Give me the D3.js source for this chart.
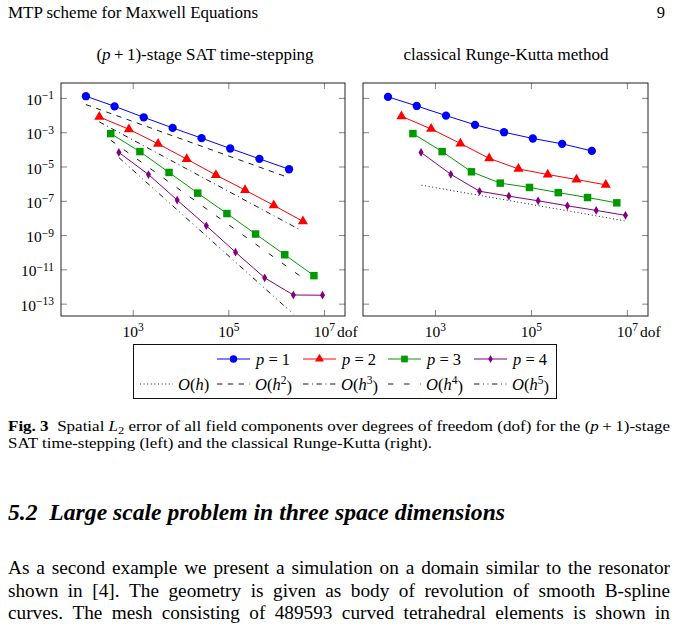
<!DOCTYPE html>
<html>
<head>
<meta charset="utf-8">
<script src="https://cdn.jsdelivr.net/npm/d3@7"></script>
<style>
    body { margin: 0; background: #fff; }
    svg { display: block; font-family: "Liberation Serif", "Times New Roman", serif; }
</style>
</head>
<body>
<svg id="page" width="677" height="634"></svg>
<script>
// degrees of freedom per polynomial degree (same meshes in both panels)
const dofP1 = [105, 417, 1698, 6839, 27540, 109600, 446700, 1862000];
const dofP2 = [200, 832, 3388, 13490, 54950, 223900, 891300, 3631000];
const dofP3 = [347, 1413, 5754, 22910, 93330, 371500, 1514000, 6166000];
const dofP4 = [513, 2138, 8511, 34670, 141300, 575400, 2291000, 9333000];

// L2 errors, (p+1)-stage SAT time-stepping
const satP1 = [0.126, 0.0324, 7.4e-3, 1.78e-3, 4.5e-4, 1.12e-4, 2.8e-5, 6.9e-6];
const satP2 = [7.8e-3, 1.48e-3, 2.1e-4, 2.7e-5, 3.2e-6, 4.2e-7, 5.4e-8, 6.3e-9];
const satP3 = [8.3e-4, 7.4e-5, 4.5e-6, 2.8e-7, 1.8e-8, 1.15e-9, 7.1e-11, 4.3e-12];
const satP4 = [6.6e-5, 3.4e-6, 1.1e-7, 3.5e-9, 1.0e-10, 3.2e-12, 3.2e-13, 3.1e-13];

// L2 errors, classical Runge-Kutta
const rkP1 = [0.115, 0.034, 9.3e-3, 2.7e-3, 1.0e-3, 4.3e-4, 2.1e-4, 8.1e-5];
const rkP2 = [8.5e-3, 1.55e-3, 2.2e-4, 3.0e-5, 7.2e-6, 3.4e-6, 1.74e-6, 8.5e-7];
const rkP3 = [8.3e-4, 7.4e-5, 4.9e-6, 1.07e-6, 6.0e-7, 3.0e-7, 1.55e-7, 7.6e-8];
const rkP4 = [6.6e-5, 3.5e-6, 3.6e-7, 1.86e-7, 1.0e-7, 5.1e-8, 2.75e-8, 1.41e-8];

// reference slopes O(h^k): [dof, error] end points
const satRefH2 = [[105, 4.1e-2], [1.86e6, 2.2e-6]];
const satRefH3 = [[200, 4.0e-3], [3.24e6, 1.95e-9]];
const satRefH4 = [[347, 3.4e-4], [3.98e6, 2.6e-12]];
const satRefH5 = [[513, 3.3e-5], [2.29e6, 2.5e-14]];
const rkRefH1 = [[525, 8.1e-7], [8.9e6, 6.8e-9]];

const xTicks = [1e3, 1e5, 1e7];
const yTicks = [1e-1, 1e-3, 1e-5, 1e-7, 1e-9, 1e-11, 1e-13];
const xDomain = [Math.pow(10, 1.5), Math.pow(10, 7.44)];
const yDomain = [Math.pow(10, -13.72), Math.pow(10, -0.13)];

const seriesStyle = [
    { p: 1, color: "#0000ff", symbol: d3.symbolCircle, size: 54 },
    { p: 2, color: "#ff0000", symbol: d3.symbolTriangle, size: 44 },
    { p: 3, color: "#009a00", symbol: d3.symbolSquare, size: 56 },
    { p: 4, color: "#800080", symbol: d3.symbolDiamond, size: 22 }
];
const refDash = { 1: "1,2.6", 2: "5.4,5.4", 3: "5.4,3.6,0.9,3.6", 4: "5.4,10.8", 5: "5.4,3.6,0.9,3.6,0.9,3.6" };

const dofs = [dofP1, dofP2, dofP3, dofP4];
const panels = [
    {
        title: "sat", left: 61, right: 345, yLabels: true,
        errors: [satP1, satP2, satP3, satP4],
        refs: [{ k: 2, pts: satRefH2 }, { k: 3, pts: satRefH3 }, { k: 4, pts: satRefH4 }, { k: 5, pts: satRefH5 }]
    },
    {
        title: "rk", left: 363, right: 648, yLabels: false,
        errors: [rkP1, rkP2, rkP3, rkP4],
        refs: [{ k: 1, pts: rkRefH1 }]
    }
];
const plotTop = 83, plotBottom = 316;

const svg = d3.select("#page");

const powerLabels = (sel, supSize) => {
    sel.each(function (d) {
        const e = Math.round(Math.log10(d));
        const t = d3.select(this).text(null);
        t.append("tspan").text("10");
        t.append("tspan")
            .attr("dy", "-0.48em")
            .style("font-size", supSize)
            .text(e < 0 ? `\u2212${-e}` : `${e}`);
    });
};

const styleAxis = (g) => {
    g.attr("font-size", null).attr("font-family", null);
    g.select(".domain").remove();
    g.selectAll(".tick line").attr("stroke", "#666").attr("stroke-width", 0.8);
    g.selectAll(".tick text").style("font-size", "15.5px").attr("fill", "#000");
};

const drawPanel = (panel, idx) => {
    const x = d3.scaleLog().domain(xDomain).range([panel.left, panel.right]);
    const y = d3.scaleLog().domain(yDomain).range([plotBottom, plotTop]);
    const g = svg.append("g").attr("class", `panel panel-${panel.title}`);

    g.append("clipPath").attr("id", `clip-${idx}`)
        .append("rect")
        .attr("x", panel.left).attr("y", plotTop)
        .attr("width", panel.right - panel.left).attr("height", plotBottom - plotTop);

    // ticks on all four sides, pointing inwards
    const bottom = g.append("g")
        .attr("transform", `translate(0,${plotBottom})`)
        .call(d3.axisBottom(x).tickValues(xTicks).tickSize(-6).tickPadding(10).tickFormat(d => d));
    styleAxis(bottom);
    powerLabels(bottom.selectAll(".tick text"), "11.5px");

    const top = g.append("g")
        .attr("transform", `translate(0,${plotTop})`)
        .call(d3.axisTop(x).tickValues(xTicks).tickSize(-6).tickFormat(""));
    styleAxis(top);

    const leftAxis = g.append("g")
        .attr("transform", `translate(${panel.left},0)`)
        .call(d3.axisLeft(y).tickValues(yTicks).tickSize(-6).tickPadding(7)
            .tickFormat(d => panel.yLabels ? d : ""));
    styleAxis(leftAxis);
    if (panel.yLabels) {
        leftAxis.selectAll(".tick text").attr("dy", "0.42em");
        powerLabels(leftAxis.selectAll(".tick text"), "11.5px");
    }

    const rightAxis = g.append("g")
        .attr("transform", `translate(${panel.right},0)`)
        .call(d3.axisRight(y).tickValues(yTicks).tickSize(-6).tickFormat(""));
    styleAxis(rightAxis);

    g.append("text")
        .attr("x", x(1e7) + 13)
        .attr("y", plotBottom + 21)
        .style("font-size", "15.5px")
        .text("dof");

    const line = d3.line().x(d => x(d[0])).y(d => y(d[1]));
    const plotArea = g.append("g").attr("clip-path", `url(#clip-${idx})`);

    plotArea.selectAll(".ref")
        .data(panel.refs)
        .join("path")
        .attr("class", "ref")
        .attr("d", d => line(d.pts))
        .attr("fill", "none")
        .attr("stroke", "#000")
        .attr("stroke-width", 0.9)
        .attr("stroke-dasharray", d => refDash[d.k]);

    const series = panel.errors.map((errs, i) => ({
        style: seriesStyle[i],
        pts: errs.map((e, j) => [dofs[i][j], e])
    }));

    const sg = plotArea.selectAll(".series")
        .data(series)
        .join("g")
        .attr("class", "series");

    sg.append("path")
        .attr("d", d => line(d.pts))
        .attr("fill", "none")
        .attr("stroke", d => d.style.color)
        .attr("stroke-width", 1);

    sg.each(function (s) {
        d3.select(this).selectAll(".mark")
            .data(s.pts)
            .join("path")
            .attr("class", "mark")
            .attr("transform", d => `translate(${x(d[0])},${y(d[1])})`)
            .attr("d", d3.symbol().type(s.style.symbol).size(s.style.size))
            .attr("fill", s.style.color);
    });

    g.append("rect")
        .attr("x", panel.left).attr("y", plotTop)
        .attr("width", panel.right - panel.left).attr("height", plotBottom - plotTop)
        .attr("fill", "none")
        .attr("stroke", "#222")
        .attr("stroke-width", 1);
};

panels.forEach(drawPanel);

// panel titles
const t1 = svg.append("text").attr("x", 205).attr("y", 60).attr("text-anchor", "middle").style("font-size", "17px");
t1.append("tspan").text("(");
t1.append("tspan").style("font-style", "italic").text("p");
t1.append("tspan").text("\u2009+\u20091)-stage SAT time-stepping");
svg.append("text").attr("x", 506).attr("y", 60).attr("text-anchor", "middle").style("font-size", "17px")
    .text("classical Runge-Kutta method");

// legend
const legend = svg.append("g").attr("class", "legend");
legend.append("rect")
    .attr("x", 133.5).attr("y", 344.5).attr("width", 423).attr("height", 54)
    .attr("fill", "#fff").attr("stroke", "#111").attr("stroke-width", 1);

const legendCols = [140, 217, 303, 388, 474];
const legendRows = [359, 384];

seriesStyle.forEach((s, i) => {
    const cx = legendCols[i + 1];
    const row = legend.append("g");
    row.append("line")
        .attr("x1", cx).attr("x2", cx + 33)
        .attr("y1", legendRows[0]).attr("y2", legendRows[0])
        .attr("stroke", s.color).attr("stroke-width", 1);
    row.append("path")
        .attr("transform", `translate(${cx + 16.5},${legendRows[0]})`)
        .attr("d", d3.symbol().type(s.symbol).size(s.size * 0.8))
        .attr("fill", s.color);
    const t = row.append("text").attr("x", cx + 39).attr("y", legendRows[0] + 5.5).style("font-size", "16.5px");
    t.append("tspan").style("font-style", "italic").text("p");
    t.append("tspan").text(` = ${s.p}`);
});

[1, 2, 3, 4, 5].forEach((k, i) => {
    const cx = legendCols[i];
    const row = legend.append("g");
    row.append("line")
        .attr("x1", cx).attr("x2", cx + 33)
        .attr("y1", legendRows[1]).attr("y2", legendRows[1])
        .attr("stroke", "#000").attr("stroke-width", 0.9)
        .attr("stroke-dasharray", refDash[k]);
    const t = row.append("text").attr("x", cx + 38).attr("y", legendRows[1] + 5.5).style("font-size", "16.5px");
    t.append("tspan").style("font-style", "italic").text("O");
    t.append("tspan").text("(");
    t.append("tspan").style("font-style", "italic").text("h");
    if (k > 1) t.append("tspan").attr("dy", "-0.45em").style("font-size", "11.5px").text(k);
    t.append("tspan").attr("dy", k > 1 ? "0.45em" : null).text(")");
});

// page text around the figure
svg.append("text").attr("x", 8).attr("y", 18).style("font-size", "16.5px")
    .attr("textLength", 250).attr("lengthAdjust", "spacingAndGlyphs")
    .text("MTP scheme for Maxwell Equations");
svg.append("text").attr("x", 665).attr("y", 18).attr("text-anchor", "end").style("font-size", "16.5px").text("9");

const cap1 = svg.append("text").attr("x", 8).attr("y", 431).style("font-size", "15px")
    .attr("textLength", 662).attr("lengthAdjust", "spacingAndGlyphs");
cap1.append("tspan").style("font-weight", "bold").text("Fig. 3");
cap1.append("tspan").text("\u2002Spatial ");
cap1.append("tspan").style("font-style", "italic").text("L");
cap1.append("tspan").attr("dy", 3).style("font-size", "11px").text("2");
cap1.append("tspan").attr("dy", -3).text(" error of all field components over degrees of freedom (dof) for the (");
cap1.append("tspan").style("font-style", "italic").text("p");
cap1.append("tspan").text("\u2009+\u20091)-stage");
svg.append("text").attr("x", 8).attr("y", 448).style("font-size", "15px")
    .attr("textLength", 424).attr("lengthAdjust", "spacingAndGlyphs")
    .text("SAT time-stepping (left) and the classical Runge-Kutta (right).");

svg.append("text").attr("x", 8).attr("y", 520)
    .style("font-size", "24px").style("font-weight", "bold").style("font-style", "italic")
    .attr("textLength", 497).attr("lengthAdjust", "spacingAndGlyphs")
    .text("5.2\u2002Large scale problem in three space dimensions");

const bodyLines = [
    "As a second example we present a simulation on a domain similar to the resonator",
    "shown in [4]. The geometry is given as body of revolution of smooth B-spline",
    "curves. The mesh consisting of 489593 curved tetrahedral elements is shown in"
];
const bodyBaselines = [574, 597, 619];

bodyLines.forEach((line, i) => {
    const t = svg.append("text").attr("y", bodyBaselines[i])
        .style("font-size", "18px")
        .attr("transform", "translate(8,0) scale(1.07,1) translate(-8,0)");
    const words = line.split(" ");
    const spans = words.map(w => t.append("tspan").text(w));
    const widths = spans.map(s => s.node().getComputedTextLength());
    const gap = (662 / 1.07 - d3.sum(widths)) / (words.length - 1);
    let cx = 8;
    spans.forEach((s, j) => {
        s.attr("x", cx);
        cx += widths[j] + gap;
    });
});
</script>
</body>
</html>
